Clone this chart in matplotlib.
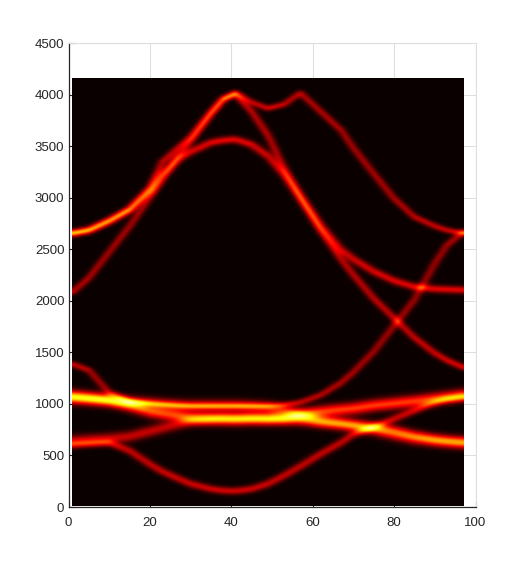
#!/usr/bin/env python3
"""Dispersion heat map: branches read off the picture, broadened and shown with the hot colormap."""
import matplotlib
matplotlib.use("Agg")
import matplotlib.pyplot as plt
import numpy as np

plt.rcParams["font.family"] = ["Liberation Sans", "DejaVu Sans"]

# knots along the path, then one list of energies per branch
X_KNOTS = [1, 5, 10, 15, 20, 23, 27, 30, 35, 38, 41, 45, 49, 53, 57, 62, 67, 70, 75, 80, 85, 90, 93, 97]

HIGH1 = [2650, 2680, 2770, 2880, 3060, 3220, 3370, 3440, 3530, 3550, 3560, 3510, 3400, 3220, 3000, 2720, 2490, 2400, 2280, 2190, 2130, 2110, 2105, 2100]
HIGH2 = [2080, 2220, 2470, 2720, 3000, 3170, 3400, 3540, 3810, 3950, 4010, 3920, 3860, 3900, 4010, 3830, 3650, 3480, 3230, 2990, 2810, 2720, 2680, 2650]
HIGH3 = [2650, 2680, 2770, 2880, 3090, 3340, 3480, 3580, 3820, 3950, 4000, 3830, 3600, 3280, 3000, 2680, 2400, 2250, 2020, 1830, 1640, 1490, 1420, 1350]
MID1 = [1380, 1320, 1100, 1020, 1000, 990, 980, 975, 975, 975, 975, 975, 975, 985, 1010, 1080, 1200, 1300, 1500, 1750, 2000, 2350, 2530, 2660]
MID2 = [1070, 1055, 1030, 980, 920, 900, 880, 860, 850, 848, 845, 850, 850, 860, 890, 920, 940, 950, 980, 1000, 1020, 1045, 1060, 1080]
MID3 = [1050, 1040, 1030, 1010, 1000, 990, 980, 975, 975, 975, 975, 970, 960, 930, 885, 830, 800, 785, 750, 700, 660, 640, 630, 620]
LOW1 = [640, 650, 660, 680, 730, 760, 800, 830, 850, 855, 855, 855, 850, 840, 830, 815, 805, 790, 770, 740, 690, 650, 635, 620]
LOW2 = [600, 610, 620, 540, 410, 340, 270, 220, 170, 155, 150, 170, 220, 300, 390, 510, 620, 700, 770, 850, 930, 1010, 1040, 1060]

BRANCHES = [HIGH1, HIGH2, HIGH3, MID1, MID2, MID3, LOW1, LOW2]
WEIGHTS = [0.33, 0.30, 0.33, 0.28, 0.45, 0.34, 0.28, 0.30]
SIGMAS = [2.6, 2.1, 2.2, 2.2, 4.2, 4.2, 3.8, 2.6]

XTICKS = [0, 20, 40, 60, 80, 100]
YTICKS = [0, 500, 1000, 1500, 2000, 2500, 3000, 3500, 4000, 4500]

W, H = 526, 568
LEFT, RIGHT, TOP, BOTTOM = 68.5, 475.5, 43, 507
IMG_X = (0.9, 97.2)
IMG_Y = (10, 4160)
BLUR_COLS = 2.5  # image columns, rounds the knots off


def branch_layer(xs, ys, px, py, sigma):
    """Gaussian of the pixel distance to one polyline."""
    best = np.full(px.shape, np.inf)
    for x0, y0, x1, y1 in zip(xs[:-1], ys[:-1], xs[1:], ys[1:]):
        dx, dy = x1 - x0, y1 - y0
        t = ((px - x0) * dx + (py - y0) * dy) / max(dx * dx + dy * dy, 1e-9)
        t = np.clip(t, 0, 1)
        best = np.minimum(best, (px - x0 - t * dx) ** 2 + (py - y0 - t * dy) ** 2)
    return np.exp(-best / (2 * sigma ** 2))


def build_image():
    sx = (RIGHT - LEFT) / 100.0
    sy = (BOTTOM - TOP) / 4500.0
    cols = np.arange(IMG_X[0], IMG_X[1], 0.25) * sx
    rows = np.arange(IMG_Y[0], IMG_Y[1], 10.0) * sy
    px, py = np.meshgrid(cols, rows)
    img = np.zeros(px.shape)
    for ys, w, s in zip(BRANCHES, WEIGHTS, SIGMAS):
        img += w * branch_layer(np.array(X_KNOTS) * sx, np.array(ys) * sy, px, py, s)
    # soft blur along x, padded at the edges
    half = int(3 * BLUR_COLS)
    kernel = np.exp(-0.5 * (np.arange(-half, half + 1) / BLUR_COLS) ** 2)
    kernel /= kernel.sum()
    padded = np.pad(img, ((0, 0), (half, half)), mode="edge")
    return np.apply_along_axis(lambda r: np.convolve(r, kernel, mode="valid"), 1, padded)


fig = plt.figure(figsize=(W / 100, H / 100), dpi=100, facecolor="white")
ax = fig.add_axes([LEFT / W, 1 - BOTTOM / H, (RIGHT - LEFT) / W, (BOTTOM - TOP) / H])

ax.imshow(build_image(), cmap="hot", vmin=0, vmax=1, origin="lower", aspect="auto",
          extent=[IMG_X[0], IMG_X[1], IMG_Y[0], IMG_Y[1]], interpolation="bilinear", zorder=2)

ax.set_xlim(0, 100)
ax.set_ylim(0, 4500)
ax.set_xticks(XTICKS)
ax.set_yticks(YTICKS)
ax.grid(True, color="#dfdfdf", lw=0.8, zorder=1)
ax.set_axisbelow(True)
ax.tick_params(direction="in", length=4, width=0.8, color="#262626", labelcolor="#262626",
               labelsize=9.5, pad=3)
ax.tick_params(axis="x", pad=7)
for side in ("top", "right"):
    ax.spines[side].set_color("#dfdfdf")
for side in ("left", "bottom"):
    ax.spines[side].set_color("#262626")
    ax.spines[side].set_linewidth(0.9)

fig.savefig("out.png", dpi=100, facecolor="white")
